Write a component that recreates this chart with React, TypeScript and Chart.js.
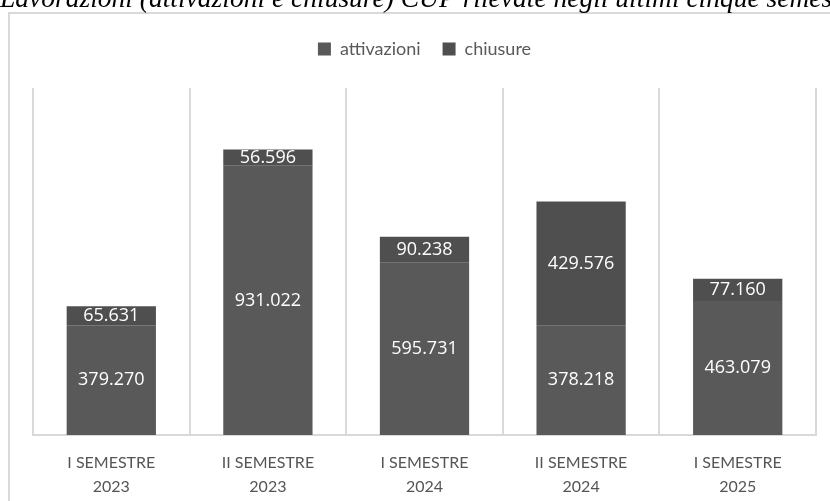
import React, { useEffect, useRef } from "react";
import { Chart, registerables } from "chart.js";

Chart.register(...registerables);

const title = "Lavorazioni (attivazioni e chiusure) CUP rilevate negli ultimi cinque semestri";
const categories: string[][] = [
  ["I SEMESTRE", "2023"],
  ["II SEMESTRE", "2023"],
  ["I SEMESTRE", "2024"],
  ["II SEMESTRE", "2024"],
  ["I SEMESTRE", "2025"],
];
const attivazioni = [379270, 931022, 595731, 378218, 463079];
const chiusure = [65631, 56596, 90238, 429576, 77160];
const seriesNames = ["attivazioni", "chiusure"];
const colors = ["#595959", "#4f4f4f"];
const yMax = 1200000;

const fmt = (v: number) => v.toLocaleString("de-DE");

const framePlugin = {
  id: "frameAndTitle",
  beforeDraw(chart: any) {
    const ctx = chart.ctx;
    ctx.save();
    ctx.fillStyle = "#ffffff";
    ctx.fillRect(0, 0, chart.width, chart.height);
    ctx.strokeStyle = "#d9d9d9";
    ctx.lineWidth = 2;
    ctx.strokeRect(9, 13, chart.width + 20, chart.height + 20);
    ctx.fillStyle = "#000000";
    ctx.font = "italic 27.5px 'Liberation Serif'";
    ctx.textBaseline = "alphabetic";
    ctx.textAlign = "left";
    ctx.fillText(title, 0, 7);
    ctx.restore();
  },
};

const labelPlugin = {
  id: "segmentLabels",
  afterDatasetsDraw(chart: any) {
    const ctx = chart.ctx;
    ctx.save();
    ctx.fillStyle = "#ffffff";
    ctx.font = "18px 'Open Sans'";
    ctx.textAlign = "center";
    ctx.textBaseline = "middle";
    chart.data.datasets.forEach((ds: any, di: number) => {
      const meta = chart.getDatasetMeta(di);
      meta.data.forEach((el: any, i: number) => {
        const { x, y, base } = el.getProps(["x", "y", "base"], true);
        ctx.fillText(fmt(ds.data[i]), x, (y + base) / 2);
      });
    });
    ctx.restore();
  },
};

export default function App() {
  const ref = useRef<HTMLCanvasElement>(null);
  useEffect(() => {
    if (!ref.current) return;
    const chart = new Chart(ref.current, {
      type: "bar",
      data: {
        labels: categories,
        datasets: [
          { label: seriesNames[0], data: attivazioni, backgroundColor: colors[0], categoryPercentage: 0.57, barPercentage: 1 },
          { label: seriesNames[1], data: chiusure, backgroundColor: colors[1], categoryPercentage: 0.57, barPercentage: 1 },
        ],
      },
      options: {
        animation: false,
        responsive: false,
        maintainAspectRatio: false,
        layout: { padding: { left: 33, right: 14, top: 18, bottom: 2 } },
        plugins: {
          legend: {
            display: true,
            position: "top",
            labels: {
              boxWidth: 13,
              boxHeight: 13,
              padding: 22,
              color: "#595959",
              font: { family: "Lato", size: 18 },
            },
          },
          title: { display: false },
          tooltip: { enabled: false },
        },
        scales: {
          x: {
            stacked: true,
            grid: { display: true, offset: true, color: "#d9d9d9", lineWidth: 2, drawTicks: false },
            border: { display: true, color: "#d9d9d9", width: 2 },
            ticks: { color: "#555555", font: { family: "Lato", size: 16, lineHeight: 1.5 }, padding: 16, maxRotation: 0 },
            afterFit: (s: any) => { s.height = 64; },
          },
          xTop: {
            type: "category",
            position: "top",
            display: true,
            grid: { display: false, drawTicks: false },
            border: { display: false },
            ticks: { display: false },
            afterFit: (s: any) => { s.height = 20; },
          },
          y: {
            stacked: true,
            display: false,
            min: 0,
            max: yMax,
          },
        },
      },
      plugins: [framePlugin, labelPlugin],
    });
    return () => chart.destroy();
  }, []);
  return (
    <div style={{ position: "absolute", left: 0, top: 0, width: 830, height: 501, background: "#fff" }}>
      <canvas ref={ref} width={830} height={501} style={{ display: "block", width: 830, height: 501 }} />
    </div>
  );
}
